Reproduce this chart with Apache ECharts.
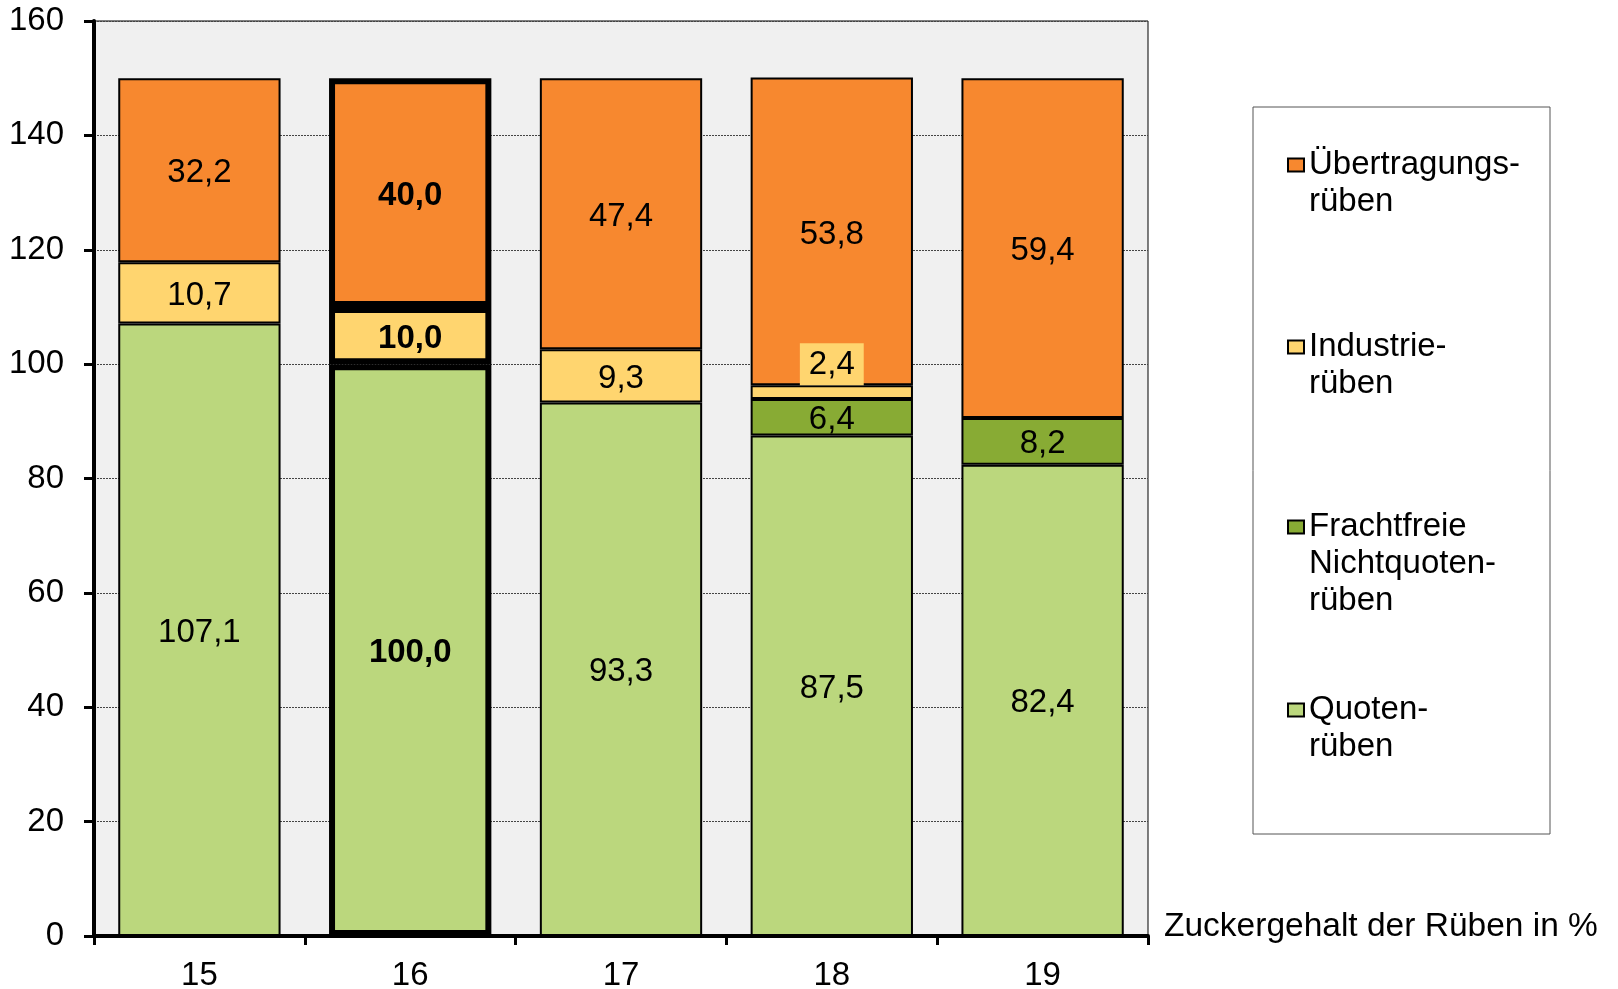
<!DOCTYPE html>
<html>
<head>
<meta charset="utf-8">
<script src="https://cdn.jsdelivr.net/npm/echarts@6/dist/echarts.min.js"></script>
<style>
html,body{margin:0;padding:0;background:#fff;}
#chart{width:1618px;height:989px;}
</style>
</head>
<body>
<div id="chart"></div>
<script>
// ---- data ----
const categories = ['15', '16', '17', '18', '19'];
const quotenRueben = [107.1, 100.0, 93.3, 87.5, 82.4];
const frachtfreieRueben = [null, null, null, 6.4, 8.2];
const industrieRueben = [10.7, 10.0, 9.3, 2.4, null];
const uebertragungsRueben = [32.2, 40.0, 47.4, 53.8, 59.4];
const seriesNames = ['Quoten-\nrüben', 'Frachtfreie\nNichtquoten-\nrüben', 'Industrie-\nrüben', 'Übertragungs-\nrüben'];
const yTicks = [0, 20, 40, 60, 80, 100, 120, 140, 160];
const xAxisTitle = 'Zuckergehalt der Rüben in %';

// ---- styling ----
const FONT = 'Liberation Sans, Arial, sans-serif';
const FS = 33;
const colors = ['#BBD77D', '#88AB34', '#FFD56F', '#F7882F'];
const HIGHLIGHT = 1; // reference bar (16 %)

function fmt(v) { return v == null ? '' : Number(v).toFixed(1).replace('.', ','); }

function buildData(values, sIdx) {
  return values.map((v, i) => {
    if (v == null) return '-';
    const item = { value: v };
    if (i === HIGHLIGHT) {
      item.itemStyle = { borderWidth: 6 };
      item.label = { fontWeight: 'bold' };
    }
    if (sIdx === 2 && i === 3) {
      item.label = { position: 'top', distance: 0, offset: [0, 0], backgroundColor: '#FFD56F', padding: [5, 9, 4, 9] };
    }
    return item;
  });
}

const valueArrays = [quotenRueben, frachtfreieRueben, industrieRueben, uebertragungsRueben];

const series = valueArrays.map((arr, s) => ({
  name: seriesNames[s],
  type: 'bar',
  stack: 'total',
  barCategoryGap: '23%',
  itemStyle: { color: colors[s], borderColor: '#000', borderWidth: 2 },
  label: {
    show: true,
    position: 'inside',
    offset: [0, 3],
    color: '#000',
    fontFamily: FONT,
    fontSize: FS,
    formatter: p => fmt(p.value)
  },
  emphasis: { disabled: true },
  data: buildData(arr, s)
}));

// legends: one per item, first text line aligned to the marker
const L = 37;
const legendDefs = [
  { s: 3, firstLine: 165 },
  { s: 2, firstLine: 347 },
  { s: 1, firstLine: 527 },
  { s: 0, firstLine: 710 }
];
const legends = legendDefs.map(d => {
  const n = seriesNames[d.s].split('\n').length;
  const H = (2 * n - 1) * L;
  return {
    show: true,
    data: [seriesNames[d.s]],
    left: 1287,
    top: d.firstLine - H / 2,
    orient: 'vertical',
    padding: 0,
    selectedMode: false,
    icon: 'rect',
    itemWidth: 16,
    itemHeight: 13,
    itemStyle: { borderColor: '#000', borderWidth: 2 },
    formatter: name => '\n'.repeat(n - 1) + name,
    textStyle: {
      fontFamily: FONT,
      fontSize: FS,
      lineHeight: L,
      color: '#000'
    }
  };
});

const chart = echarts.init(document.getElementById('chart'), null, { renderer: 'canvas' });
chart.setOption({
  animation: false,
  backgroundColor: '#fff',
  graphic: [{
    type: 'rect',
    shape: { x: 1253, y: 107, width: 297, height: 727 },
    style: { fill: '#fff', stroke: '#555', lineWidth: 1 },
    z: -1
  }],
  legend: legends,
  grid: {
    left: 94, right: 470, top: 21, bottom: 53,
    outerBoundsMode: 'none',
    containLabel: false,
    show: true,
    backgroundColor: '#F0F0F0',
    borderColor: '#000',
    borderWidth: 1
  },
  xAxis: {
    type: 'category',
    data: categories,
    name: xAxisTitle,
    nameLocation: 'end',
    nameGap: 16,
    nameTextStyle: {
      fontFamily: FONT, fontSize: 33.5, color: '#000',
      verticalAlign: 'bottom', lineHeight: 18
    },
    axisLine: { lineStyle: { color: '#000', width: 4 } },
    axisTick: { show: true, length: 9, lineStyle: { color: '#000', width: 3 } },
    axisLabel: { fontFamily: FONT, fontSize: FS, color: '#000', margin: 23 }
  },
  yAxis: {
    type: 'value',
    min: yTicks[0],
    max: yTicks[yTicks.length - 1],
    interval: yTicks[1] - yTicks[0],
    axisLine: { show: true, lineStyle: { color: '#000', width: 4 } },
    axisTick: { show: true, length: 10, lineStyle: { color: '#000', width: 3 } },
    axisLabel: { fontFamily: FONT, fontSize: FS, color: '#000', margin: 30 },
    splitLine: { show: true, lineStyle: { color: '#444', width: 1, type: [2, 1] } }
  },
  series: series
});
</script>
</body>
</html>
